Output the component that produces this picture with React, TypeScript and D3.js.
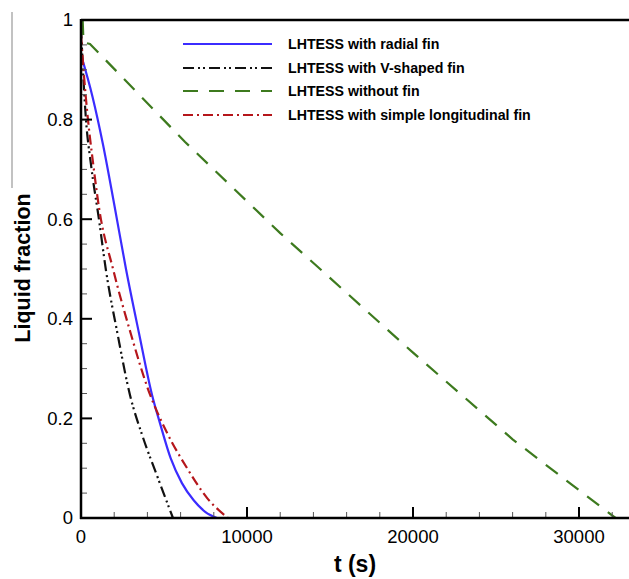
import React from "react";
import * as d3 from "d3";

const W = 629;
const H = 579;

const seriesNames = [
  "LHTESS with radial fin",
  "LHTESS with V-shaped fin",
  "LHTESS without fin",
  "LHTESS with simple longitudinal fin",
];

const radialT = [0, 700, 1325, 2000, 2710, 3500, 4280, 4760, 5400, 6080, 6800, 7500, 8190];
const radialY = [0.93, 0.845, 0.75, 0.63, 0.5, 0.37, 0.247, 0.19, 0.12, 0.07, 0.035, 0.012, 0];

const vShapedT = [0, 150, 300, 600, 1080, 1500, 2200, 2950, 3700, 4580, 5540];
const vShapedY = [0.985, 0.88, 0.8, 0.71, 0.6, 0.498, 0.37, 0.247, 0.165, 0.085, 0];

const noFinT = [100, 150, 540, 6270, 12000, 20000, 26000, 29640, 32200];
const noFinY = [1, 0.955, 0.952, 0.755, 0.572, 0.332, 0.158, 0.065, 0];

const simpleT = [0, 200, 420, 700, 1100, 1930, 3000, 4100, 5200, 6390, 7600, 8860];
const simpleY = [0.97, 0.88, 0.8, 0.72, 0.62, 0.5, 0.37, 0.253, 0.17, 0.1, 0.04, 0];

const xMajorTicks = [0, 10000, 20000, 30000];
const yMajorTicks = [0, 0.2, 0.4, 0.6, 0.8, 1];

const colors = ["#3b2cff", "#111111", "#3d7a1e", "#b5161b"];
const dashes = ["", "11,4,2,3,2,4", "15,11", "10,4,2,4"];

const FONT = "'Liberation Sans', Arial, Helvetica, sans-serif";

export default function App() {
  const x = d3.scaleLinear().domain([0, 32800]).range([81, 625.5]);
  const y = d3.scaleLinear().domain([0, 1]).range([518, 20]);

  const series = [
    radialT.map((t, i) => [t, radialY[i]]),
    vShapedT.map((t, i) => [t, vShapedY[i]]),
    noFinT.map((t, i) => [t, noFinY[i]]),
    simpleT.map((t, i) => [t, simpleY[i]]),
  ] as [number, number][][];

  const smooth = d3
    .line<[number, number]>()
    .x((d) => x(d[0]))
    .y((d) => y(d[1]))
    .curve(d3.curveMonotoneX);
  const straight = d3
    .line<[number, number]>()
    .x((d) => x(d[0]))
    .y((d) => y(d[1]))
    .curve(d3.curveLinear);

  const xMinor = d3.range(0, 32001, 2000).filter((v) => v % 10000 !== 0);
  const yMinor = d3.range(0, 21).map((i) => i * 0.05).filter((v, i) => i % 4 !== 0);

  const legendY = [44, 68, 91, 115];

  return (
    <svg
      width={W}
      height={H}
      style={{ position: "absolute", left: 0, top: 0, background: "#fff" }}
      fontFamily={FONT}
    >
      <rect x={0} y={0} width={W} height={H} fill="#fff" />
      {/* stray gray crop line */}
      <line x1={12} x2={12} y1={12} y2={188} stroke="#999" strokeWidth={1.2} />

      <defs>
        <clipPath id="clip">
          <rect x={81} y={19} width={W - 81} height={500} />
        </clipPath>
      </defs>
      <g clipPath="url(#clip)">
        {series.map((s, i) => (
          <path
            key={i}
            d={(i === 2 ? straight(s) : smooth(s)) || ""}
            fill="none"
            stroke={colors[i]}
            strokeWidth={2.2}
            strokeDasharray={dashes[i] || undefined}
          />
        ))}
      </g>

      {/* minor ticks */}
      {xMinor.map((v) => (
        <line key={"xm" + v} x1={x(v)} x2={x(v)} y1={518} y2={512} stroke="#555" strokeWidth={1} />
      ))}
      {yMinor.map((v) => (
        <line key={"ym" + v} x1={81} x2={87} y1={y(v)} y2={y(v)} stroke="#555" strokeWidth={1} />
      ))}
      {/* major ticks */}
      {xMajorTicks.map((v) => (
        <line key={"xM" + v} x1={x(v)} x2={x(v)} y1={518} y2={507} stroke="#000" strokeWidth={2} />
      ))}
      {yMajorTicks.map((v) => (
        <line key={"yM" + v} x1={81} x2={92} y1={y(v)} y2={y(v)} stroke="#000" strokeWidth={2} />
      ))}

      {/* frame */}
      <line x1={81} x2={W} y1={20} y2={20} stroke="#000" strokeWidth={2.5} />
      <line x1={81} x2={81} y1={19} y2={519} stroke="#000" strokeWidth={2.5} />
      <line x1={80} x2={W} y1={518} y2={518} stroke="#000" strokeWidth={2.5} />

      {/* tick labels */}
      {xMajorTicks.map((v) => (
        <text key={"xl" + v} x={x(v)} y={543} fontSize={18.5} textAnchor="middle" fill="#000">
          {String(v)}
        </text>
      ))}
      {yMajorTicks.map((v) => (
        <text
          key={"yl" + v}
          x={73}
          y={y(v)}
          dy="0.35em"
          fontSize={18.5}
          textAnchor="end"
          fill="#000"
        >
          {v === 0 || v === 1 ? String(v) : v.toFixed(1)}
        </text>
      ))}

      {/* axis titles */}
      <text x={355} y={572} fontSize={23} fontWeight="bold" textAnchor="middle" fill="#000">
        t (s)
      </text>
      <text
        transform="translate(30,268) rotate(-90)"
        fontSize={21.5}
        fontWeight="bold"
        textAnchor="middle"
        fill="#000"
      >
        Liquid fraction
      </text>

      {/* legend */}
      {seriesNames.map((name, i) => (
        <g key={name}>
          <line
            x1={183}
            x2={272}
            y1={legendY[i]}
            y2={legendY[i]}
            stroke={colors[i]}
            strokeWidth={2.2}
            strokeDasharray={dashes[i] || undefined}
          />
          <text x={288} y={legendY[i] + 5} fontSize={14.2} fontWeight="bold" fill="#000">
            {name}
          </text>
        </g>
      ))}
    </svg>
  );
}
